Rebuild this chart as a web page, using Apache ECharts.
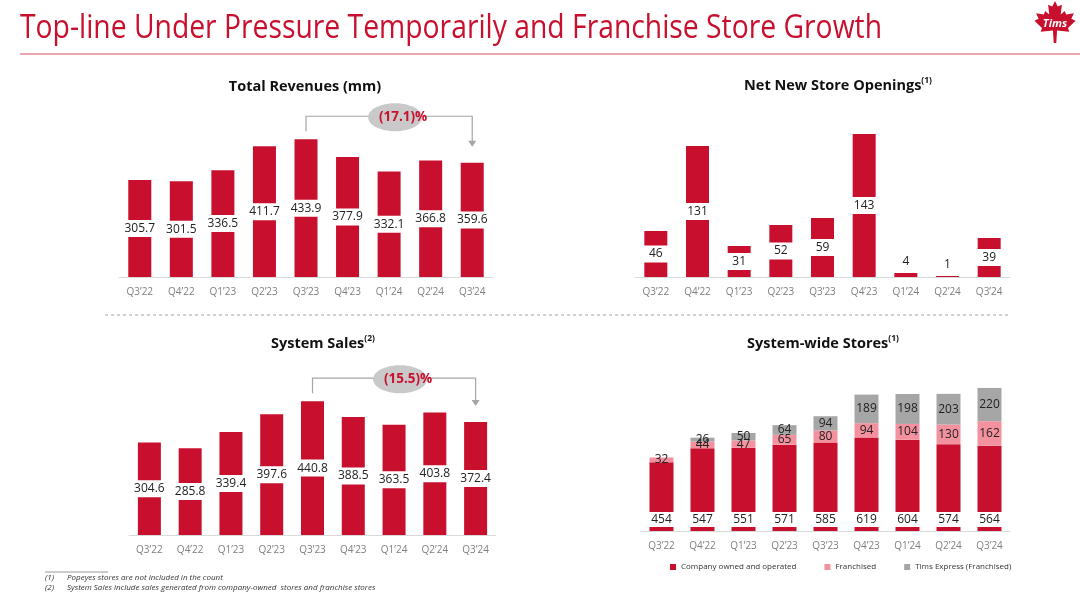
<!DOCTYPE html>
<html><head><meta charset="utf-8">
<script src="https://cdn.jsdelivr.net/npm/echarts/dist/echarts.min.js"></script>
<style>html,body{margin:0;padding:0;background:#fff;}#c{width:1080px;height:599px;}</style>
</head><body><div id="c"></div>
<script>
// ---- data ----
const quarters = ["Q3’22","Q4’22","Q1’23","Q2’23","Q3’23","Q4’23","Q1’24","Q2’24","Q3’24"];
const totalRevenues = [305.7,301.5,336.5,411.7,433.9,377.9,332.1,366.8,359.6];
const netNewStores = [46,131,31,52,59,143,4,1,39];
const systemSales = [304.6,285.8,339.4,397.6,440.8,388.5,363.5,403.8,372.4];
const storesCompany = [454,547,551,571,585,619,604,574,564];
const storesFranchised = [32,44,47,65,80,94,104,130,162];
const storesExpress = [null,26,50,64,94,189,198,203,220];
const revenueChange = "(17.1)%";
const salesChange = "(15.5)%";
const pageTitle = "Top-line Under Pressure Temporarily and Franchise Store Growth";
const footnotes = [["(1)","Popeyes stores are not included in the count"],["(2)","System Sales include sales generated from company-owned  stores and franchise stores"]];

const RED = '#C8102E', PINK = '#F4919F', GREY = '#A6A6A6';
const FONT = '"Open Sans", "Noto Sans", sans-serif';

const chart = echarts.init(document.getElementById('c'), null, {renderer:'canvas'});

function xAx(gi){
  return {type:'category', gridIndex:gi, data:quarters,
    axisLine:{lineStyle:{color:'#D9D9D9', width:1}}, axisTick:{show:false},
    axisLabel:{color:'#7F7F7F', fontSize:10, margin:10, fontFamily:FONT}};
}
function yAx(gi,max){ return {type:'value', gridIndex:gi, min:0, max:max, show:false, splitLine:{show:false}}; }

const boxLabel = {show:true, position:'inside', color:'#222', fontSize:12, fontFamily:FONT,
  backgroundColor:'#fff', padding:[3,4,2,4]};

const option = {
  animation:false,
  textStyle:{fontFamily:FONT},
  grid:[
    {left:119, width:374, top:117, height:160},
    {left:635, width:375, top:117, height:160},
    {left:129, width:367, top:375, height:160},
    {left:641, width:369, top:371, height:160}
  ],
  xAxis:[xAx(0),xAx(1),xAx(2),xAx(3)],
  yAxis:[yAx(0,504),yAx(1,160),yAx(2,527),yAx(3,1058)],
  legend:{data:['Company owned and operated','Franchised','Tims Express (Franchised)'],
    left:665, top:558, icon:'rect', itemWidth:6, itemHeight:6, itemGap:28,
    textStyle:{fontSize:8, color:'#333', fontFamily:FONT}},
  series:[
    {type:'bar', xAxisIndex:0, yAxisIndex:0, data:totalRevenues, barWidth:23,
      itemStyle:{color:RED}, label:Object.assign({}, boxLabel, {formatter:p=>p.value.toFixed(1)})},
    {type:'bar', xAxisIndex:1, yAxisIndex:1, barWidth:23, itemStyle:{color:RED},
      data:netNewStores.map(v => v < 10 ? {value:v, label:{position:'top', backgroundColor:'transparent', distance:3}} : v),
      label:Object.assign({}, boxLabel, {padding:[3,8,2,8]})},
    {type:'bar', xAxisIndex:2, yAxisIndex:2, data:systemSales, barWidth:23,
      itemStyle:{color:RED}, label:Object.assign({}, boxLabel, {formatter:p=>p.value.toFixed(1)})},
    {name:'Company owned and operated', type:'bar', stack:'s', xAxisIndex:3, yAxisIndex:3, barWidth:24,
      data:storesCompany, itemStyle:{color:RED},
      label:{show:true, position:'insideBottom', distance:4, color:'#222', fontSize:12, backgroundColor:'#fff', padding:[2,5,1,5]}},
    {name:'Franchised', type:'bar', stack:'s', xAxisIndex:3, yAxisIndex:3, barWidth:24,
      data:storesFranchised, itemStyle:{color:PINK},
      label:{show:true, position:'inside', color:'#222', fontSize:12}},
    {name:'Tims Express (Franchised)', type:'bar', stack:'s', xAxisIndex:3, yAxisIndex:3, barWidth:24,
      data:storesExpress, itemStyle:{color:GREY},
      label:{show:true, position:'inside', color:'#222', fontSize:12}}
  ]
};
chart.setOption(option);

// ---- decorations / annotations ----
const ctx = document.createElement('canvas').getContext('2d');
ctx.font = '33px "Open Sans"';
const tw = ctx.measureText(pageTitle).width;
const sx = 862 / tw;

function leafPoints(cx, cy, s){
  const half = [[0,-1],[0.13,-0.74],[0.33,-0.82],[0.27,-0.36],[0.47,-0.52],[0.53,-0.36],[0.9,-0.42],[0.78,-0.16],[0.98,-0.06],[0.62,0.28],[0.68,0.46],[0.1,0.4],[0.06,1]];
  const pts = half.map(p=>[cx+p[0]*s, cy+p[1]*s]);
  const mir = half.slice().reverse().map(p=>[cx-p[0]*s, cy+p[1]*s]);
  return pts.concat(mir);
}

function bracket(gi, data, i0, i1, label){
  const p0 = chart.convertToPixel({gridIndex:gi}, [i0, data[i0]]);
  const p1 = chart.convertToPixel({gridIndex:gi}, [i1, data[i1]]);
  const yh = p0[1] - 23;
  const ytip = p1[1] - 16;
  const mid = (p0[0]+p1[0])/2;
  const stroke = {stroke:'#A6A6A6', lineWidth:1.2, fill:null};
  return [
    {type:'polyline', shape:{points:[[p0[0], p0[1]-8],[p0[0], yh],[p1[0], yh],[p1[0], ytip-5]]}, style:stroke},
    {type:'polygon', shape:{points:[[p1[0]-4, ytip-6],[p1[0]+4, ytip-6],[p1[0], ytip]]}, style:{fill:'#A6A6A6'}},
    {type:'ellipse', shape:{cx:mid+6, cy:yh+1, rx:27, ry:14}, style:{fill:'#C9C9C9'}},
    {type:'text', x:mid+14, y:yh+1, style:{text:label, fill:'#C8102E', font:'bold 13.5px '+FONT, textAlign:'center', textVerticalAlign:'middle'}}
  ];
}

function chartTitle(x, y, main, sup){
  return {type:'text', x:x, y:y, style:{
    text: '{m|'+main+'}' + (sup ? '{s|'+sup+'}' : ''),
    rich:{m:{font:'bold 14.5px '+FONT, fill:'#111', lineHeight:20},
          s:{font:'bold 8.5px '+FONT, fill:'#111', lineHeight:10, verticalAlign:'top'}},
    textAlign:'center', textVerticalAlign:'middle'}};
}

const graphics = [
  {type:'text', x:20, y:29, scaleX:sx, style:{text:pageTitle, fill:'#C8102E', font:'33px "Open Sans"', textVerticalAlign:'middle'}},
  {type:'line', shape:{x1:20, y1:54, x2:1080, y2:54}, style:{stroke:'#EBA5AE', lineWidth:2}},
  {type:'polygon', shape:{points:leafPoints(1055, 22, 21)}, style:{fill:'#C8102E'}},
  {type:'text', x:1055, y:24, style:{text:'Tims', fill:'#fff', font:'italic bold 11px '+FONT, textAlign:'center', textVerticalAlign:'middle'}},
  {type:'line', shape:{x1:105, y1:315, x2:1010, y2:315}, style:{stroke:'#A0A0A0', lineWidth:1, lineDash:[3,3]}},
  chartTitle(305, 87, 'Total Revenues (mm)'),
  chartTitle(838, 86, 'Net New Store Openings', '(1)'),
  chartTitle(323, 344, 'System Sales', '(2)'),
  chartTitle(823, 344, 'System-wide Stores', '(1)'),
  {type:'line', shape:{x1:45, y1:572, x2:108, y2:572}, style:{stroke:'#555', lineWidth:0.6}}
].concat(bracket(0, totalRevenues, 4, 8, revenueChange), bracket(2, systemSales, 4, 8, salesChange));

footnotes.forEach((f, k) => {
  graphics.push({type:'text', x:45, y:578 + k*10, style:{text:f[0], fill:'#333', font:'italic 8px '+FONT, textVerticalAlign:'middle'}});
  graphics.push({type:'text', x:67, y:578 + k*10, style:{text:f[1], fill:'#333', font:'italic 8px '+FONT, textVerticalAlign:'middle'}});
});

chart.setOption({graphic:{elements:graphics}});
</script></body></html>
